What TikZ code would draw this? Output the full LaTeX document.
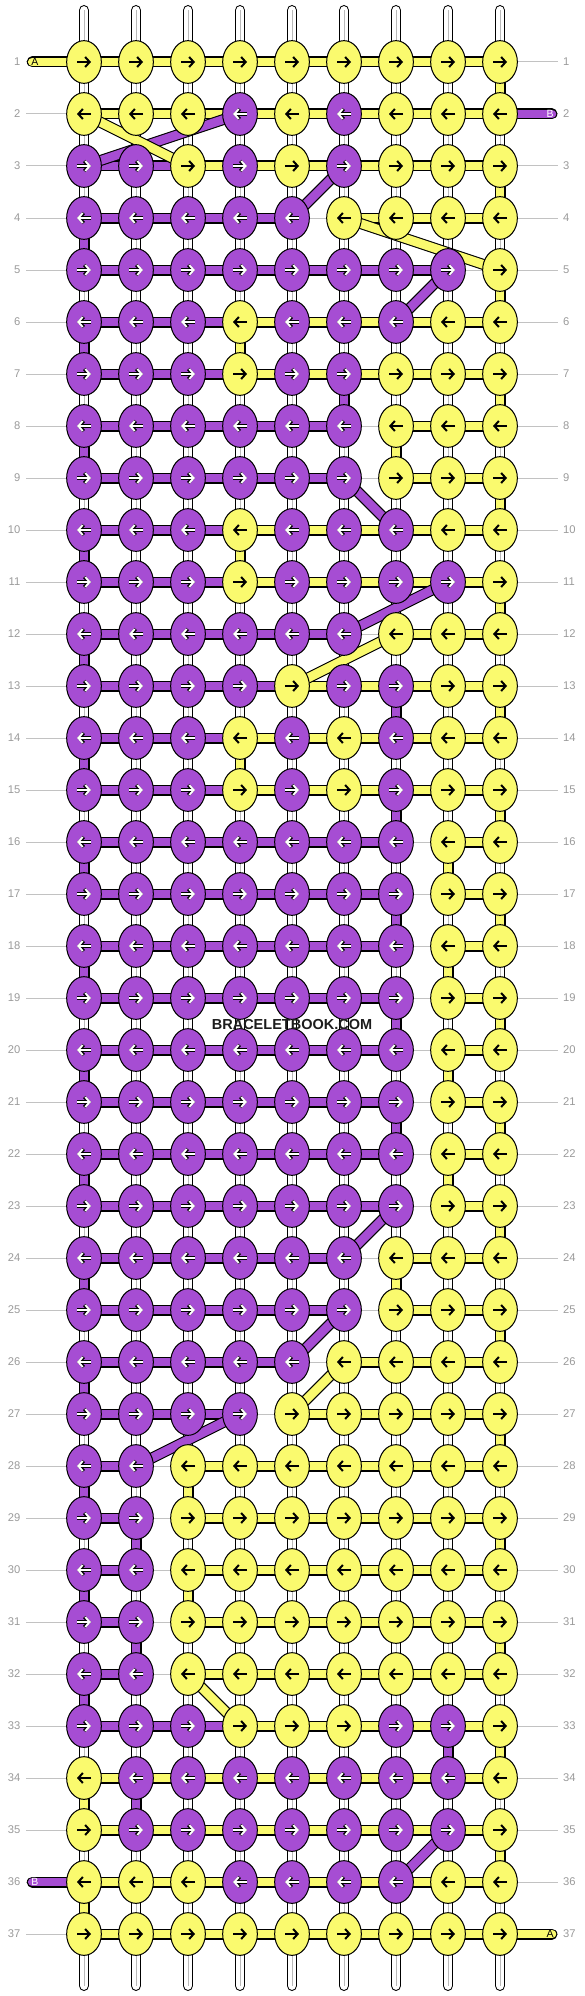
\documentclass[tikz,border=0pt]{standalone}
\usepackage{fontspec}
\setmainfont{Liberation Sans}
\usetikzlibrary{shapes.geometric,arrows.meta}

\definecolor{colY}{HTML}{FAFA6E}
\definecolor{colP}{HTML}{A64DD3}
\definecolor{guidegray}{HTML}{C2C2C2}
\definecolor{numgray}{HTML}{9A9A9A}

\pgfdeclarelayer{warps}
\pgfdeclarelayer{strings}
\pgfsetlayers{warps,strings,main}

\tikzset{
  knot/.style={ellipse, draw, line width=1pt, minimum width=34.7pt, minimum height=42.7pt, inner sep=0pt},
  knotY/.style={knot, fill=colY},
  knotP/.style={knot, fill=colP},
  strY/.style={draw, line width=1.1pt, double=colY, double distance=8.8pt},
  strP/.style={draw, line width=1.1pt, double=colP, double distance=8.8pt},
  strw/.style={}, strn/.style={},
  warp/.style={draw, line width=1.1pt, double=white, double distance=8.6pt, line cap=round},
  warpcore/.style={draw=gray!55, line width=1pt},
  tip/.style={-{Straight Barb[length=4.5pt,width=10pt]}},
  arrY/.style={draw, black, line width=2pt, tip},
  arrP/.style={preaction={draw, black, line width=3.3pt, tip}, draw, white, line width=1.9pt, tip},
  rownum/.style={text=numgray, font=\fontsize{11.2}{13}\selectfont, inner ysep=0pt, inner xsep=5.5pt},
  tailtxt/.style={font=\fontsize{10.5}{12}\selectfont, inner sep=0pt},
  guide/.style={draw=guidegray, line width=1pt},
}

% #1 row, #2 knot colours, #3 bars between knots, #4 strings down to next row
\newcommand{\knotrow}[4]{%
  \pgfmathtruncatemacro{\rn}{#1+1}%
  \begin{pgfonlayer}{strings}
    \foreach \bk [count=\cl] in {#3} {
      \pgfmathtruncatemacro{\cn}{\cl+1}
      \path[str\bk] (p-#1-\cl) -- (p-#1-\cn);
    }
    \foreach \dk [count=\cl] in {#4}
      \path[str\dk] (p-#1-\cl) -- (p-\rn-\cl);
  \end{pgfonlayer}
  \foreach \kk [count=\cl] in {#2} {
    \node[knot\kk] (k-#1-\cl) at (p-#1-\cl) {};
    \ifodd#1\relax
      \draw[arr\kk] ([xshift=-7pt]k-#1-\cl.center) -- ([xshift=7pt]k-#1-\cl.center);
    \else
      \draw[arr\kk] ([xshift=7pt]k-#1-\cl.center) -- ([xshift=-7pt]k-#1-\cl.center);
    \fi
  }%
}

\begin{document}
\begin{tikzpicture}[x=1pt,y=-1pt]
  \useasboundingbox (0,0) rectangle (584,1996);

  % knot positions
  \foreach \row in {1,...,38}
    \foreach \cl in {1,...,9}
      \coordinate (p-\row-\cl) at ({32+52*\cl},{10+52*\row});

  \begin{pgfonlayer}{warps}
    % row numbers and guide lines
    \foreach \row in {1,...,37}{
      \node[rownum, anchor=east] (ln-\row) at (26,{10+52*\row}) {\row};
      \node[rownum, anchor=west] (rn-\row) at (557.5,{10+52*\row}) {\row};
      \draw[guide] (ln-\row.east) -- (rn-\row.west);
    }
    % warp strings
    \foreach \cl in {1,...,9}{
      \coordinate (wt-\cl) at ({32+52*\cl},10.4);
      \coordinate (wb-\cl) at ({32+52*\cl},1985.6);
      \path[warp] (wt-\cl) -- (wb-\cl);
      \path[warpcore] (wt-\cl) -- (wb-\cl);
    }
  \end{pgfonlayer}

  % loose ends
  \coordinate (tail-A1) at (32.3,62);
  \coordinate (tail-B1) at (551.9,114);
  \coordinate (tail-B2) at (32.3,1882);
  \coordinate (tail-A2) at (551.9,1934);
  \begin{pgfonlayer}{strings}
    \path[strY, line cap=round] (tail-A1) -- (p-1-1);
    \path[strP, line cap=round] (p-2-9) -- (tail-B1);
    \path[strP, line cap=round] (tail-B2) -- (p-36-1);
    \path[strY, line cap=round] (p-37-9) -- (tail-A2);
  \end{pgfonlayer}
  \node[tailtxt] (lab-A1) at (34.8,62) {A};
  \node[tailtxt, white] (lab-B1) at (550.2,114) {B};
  \node[tailtxt, white] (lab-B2) at (34.8,1882) {B};
  \node[tailtxt] (lab-A2) at (550.2,1934) {A};

  \knotrow{1}{Y,Y,Y,Y,Y,Y,Y,Y,Y}{Y,Y,Y,Y,Y,Y,Y,Y}{w,w,w,w,w,w,w,w,Y}
  \knotrow{2}{Y,Y,Y,P,Y,P,Y,Y,Y}{Y,Y,Y,Y,Y,Y,Y,Y}{w,w,w,w,w,w,w,w,w}
  \knotrow{3}{P,P,Y,P,Y,P,Y,Y,Y}{P,P,Y,Y,Y,Y,Y,Y}{w,w,w,w,w,w,w,w,Y}
  \knotrow{4}{P,P,P,P,P,Y,Y,Y,Y}{P,P,P,P,n,Y,Y,Y}{P,w,w,w,w,w,w,w,w}
  \knotrow{5}{P,P,P,P,P,P,P,P,Y}{P,P,P,P,P,P,P,n}{w,w,w,w,w,w,w,w,Y}
  \knotrow{6}{P,P,P,Y,P,P,P,Y,Y}{P,P,P,Y,Y,Y,Y,Y}{P,w,w,Y,w,w,w,w,w}
  \knotrow{7}{P,P,P,Y,P,P,Y,Y,Y}{P,P,P,Y,Y,Y,Y,Y}{w,w,w,w,w,P,w,w,Y}
  \knotrow{8}{P,P,P,P,P,P,Y,Y,Y}{P,P,P,P,P,n,Y,Y}{P,w,w,w,w,w,Y,w,w}
  \knotrow{9}{P,P,P,P,P,P,Y,Y,Y}{P,P,P,P,P,n,Y,Y}{w,w,w,w,w,w,w,w,Y}
  \knotrow{10}{P,P,P,Y,P,P,P,Y,Y}{P,P,P,Y,Y,Y,Y,Y}{P,w,w,Y,w,w,w,w,w}
  \knotrow{11}{P,P,P,Y,P,P,P,P,Y}{P,P,P,Y,Y,Y,Y,Y}{w,w,w,w,w,w,w,w,Y}
  \knotrow{12}{P,P,P,P,P,P,Y,Y,Y}{P,P,P,P,P,n,Y,Y}{P,w,w,w,w,w,w,w,w}
  \knotrow{13}{P,P,P,P,Y,P,P,Y,Y}{P,P,P,P,Y,Y,Y,Y}{w,w,w,w,w,w,P,w,Y}
  \knotrow{14}{P,P,P,Y,P,Y,P,Y,Y}{P,P,P,Y,Y,Y,Y,Y}{P,w,w,Y,w,w,w,w,w}
  \knotrow{15}{P,P,P,Y,P,Y,P,Y,Y}{P,P,P,Y,Y,Y,Y,Y}{w,w,w,w,w,w,P,w,Y}
  \knotrow{16}{P,P,P,P,P,P,P,Y,Y}{P,P,P,P,P,P,n,Y}{P,w,w,w,w,w,w,Y,w}
  \knotrow{17}{P,P,P,P,P,P,P,Y,Y}{P,P,P,P,P,P,n,Y}{w,w,w,w,w,w,P,w,Y}
  \knotrow{18}{P,P,P,P,P,P,P,Y,Y}{P,P,P,P,P,P,n,Y}{P,w,w,w,w,w,w,Y,w}
  \knotrow{19}{P,P,P,P,P,P,P,Y,Y}{P,P,P,P,P,P,n,Y}{w,w,w,w,w,w,P,w,Y}
  \knotrow{20}{P,P,P,P,P,P,P,Y,Y}{P,P,P,P,P,P,n,Y}{P,w,w,w,w,w,w,Y,w}
  \knotrow{21}{P,P,P,P,P,P,P,Y,Y}{P,P,P,P,P,P,n,Y}{w,w,w,w,w,w,P,w,Y}
  \knotrow{22}{P,P,P,P,P,P,P,Y,Y}{P,P,P,P,P,P,n,Y}{P,w,w,w,w,w,w,Y,w}
  \knotrow{23}{P,P,P,P,P,P,P,Y,Y}{P,P,P,P,P,P,n,Y}{w,w,w,w,w,w,w,w,Y}
  \knotrow{24}{P,P,P,P,P,P,Y,Y,Y}{P,P,P,P,P,n,Y,Y}{P,w,w,w,w,w,Y,w,w}
  \knotrow{25}{P,P,P,P,P,P,Y,Y,Y}{P,P,P,P,P,n,Y,Y}{w,w,w,w,w,w,w,w,Y}
  \knotrow{26}{P,P,P,P,P,Y,Y,Y,Y}{P,P,P,P,n,Y,Y,Y}{P,w,w,w,w,w,w,w,w}
  \knotrow{27}{P,P,P,P,Y,Y,Y,Y,Y}{P,P,P,n,Y,Y,Y,Y}{w,w,w,w,w,w,w,w,Y}
  \knotrow{28}{P,P,Y,Y,Y,Y,Y,Y,Y}{P,n,Y,Y,Y,Y,Y,Y}{P,w,Y,w,w,w,w,w,w}
  \knotrow{29}{P,P,Y,Y,Y,Y,Y,Y,Y}{P,n,Y,Y,Y,Y,Y,Y}{w,P,w,w,w,w,w,w,Y}
  \knotrow{30}{P,P,Y,Y,Y,Y,Y,Y,Y}{P,n,Y,Y,Y,Y,Y,Y}{P,w,Y,w,w,w,w,w,w}
  \knotrow{31}{P,P,Y,Y,Y,Y,Y,Y,Y}{P,n,Y,Y,Y,Y,Y,Y}{w,P,w,w,w,w,w,w,Y}
  \knotrow{32}{P,P,Y,Y,Y,Y,Y,Y,Y}{P,n,Y,Y,Y,Y,Y,Y}{P,w,w,w,w,w,w,w,w}
  \knotrow{33}{P,P,P,Y,Y,Y,P,P,Y}{P,P,P,Y,Y,Y,Y,Y}{w,w,w,w,w,w,w,P,Y}
  \knotrow{34}{Y,P,P,P,P,P,P,P,Y}{Y,Y,Y,Y,Y,Y,Y,Y}{Y,P,w,w,w,w,w,w,w}
  \knotrow{35}{Y,P,P,P,P,P,P,P,Y}{Y,Y,Y,Y,Y,Y,Y,Y}{w,w,w,w,w,w,w,w,Y}
  \knotrow{36}{Y,Y,Y,P,P,P,P,Y,Y}{Y,Y,Y,Y,Y,Y,Y,Y}{Y,w,w,w,w,w,w,w,w}
  \knotrow{37}{Y,Y,Y,Y,Y,Y,Y,Y,Y}{Y,Y,Y,Y,Y,Y,Y,Y}{w,w,w,w,w,w,w,w,w}

  % strings changing place
  \begin{pgfonlayer}{strings}
    \foreach \kk/\ra/\ca/\rb/\cb in {P/2/4/3/1, Y/2/1/3/3, P/3/6/4/5, Y/4/6/5/9,
        P/5/8/6/7, P/9/6/10/7, P/11/8/12/6, Y/12/7/13/5, P/23/7/24/6,
        P/25/6/26/5, Y/26/6/27/5, P/27/4/28/2, Y/32/3/33/4, P/35/8/36/7}
      \path[str\kk] (p-\ra-\ca) -- (p-\rb-\cb);
  \end{pgfonlayer}

  \node[text=gray!22!black, font=\bfseries\fontsize{14.5}{16}\selectfont] (mark) at (292,1024) {BRACELETBOOK.COM};
\end{tikzpicture}
\end{document}
